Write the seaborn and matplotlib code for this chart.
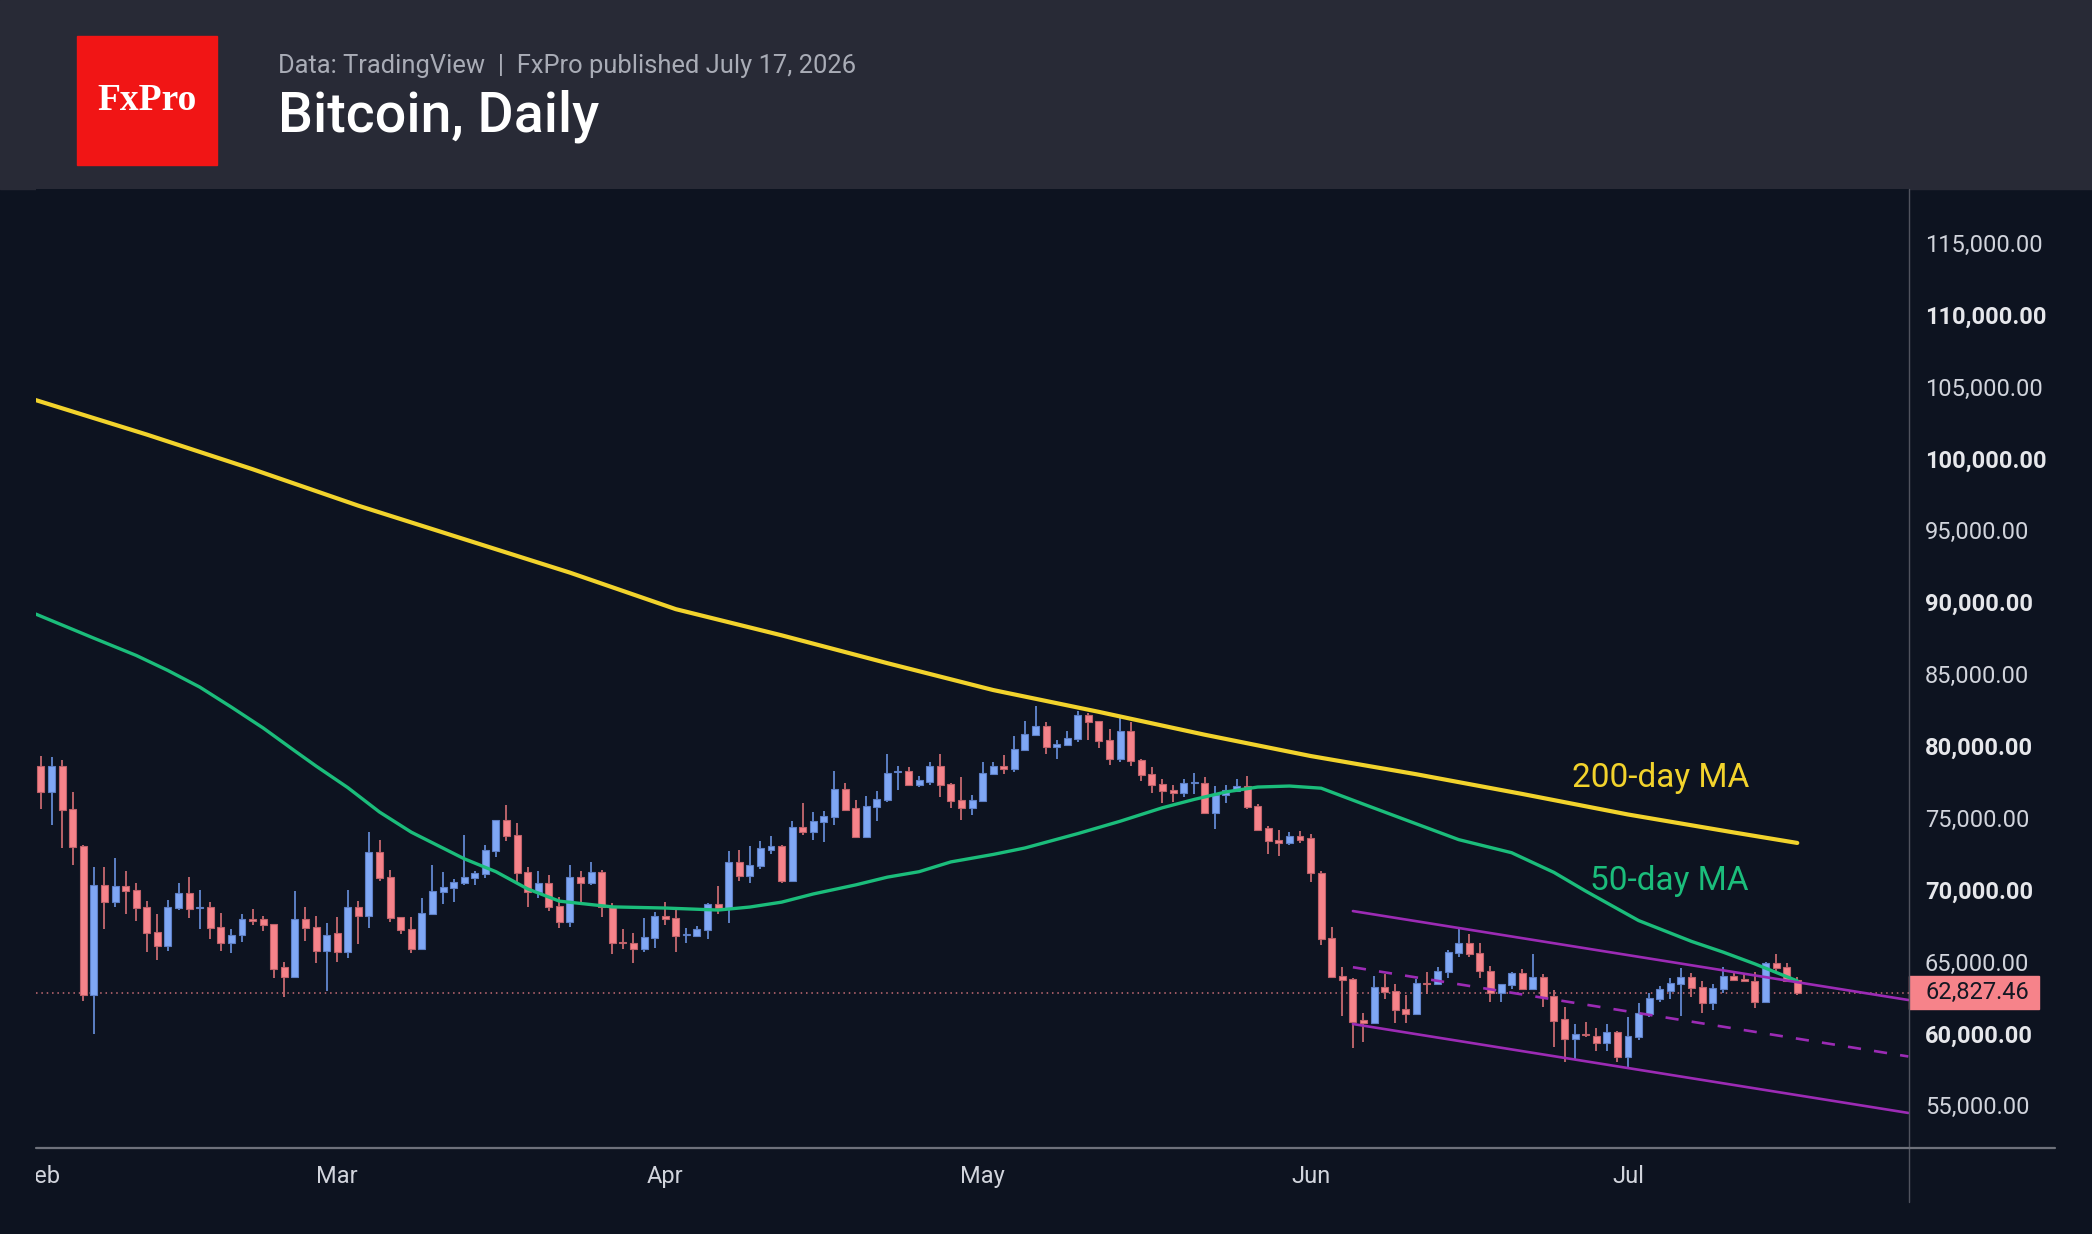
import numpy as np
import pandas as pd
import matplotlib
matplotlib.use("Agg")
import matplotlib.pyplot as plt
from matplotlib.patches import Rectangle
from matplotlib.lines import Line2D
from matplotlib.transforms import Bbox, TransformedBbox, blended_transform_factory
import seaborn as sns

# Bitcoin daily candles, Feb 1 - Jul 17 2026
start_date = "2026-02-01"
opens = [
    78600, 76790, 78600, 75630, 73040, 62640, 70350, 69140, 70250, 70000,
    68770, 67050, 66100, 68700, 69740, 68745, 68770, 67400, 66290, 66820,
    67930, 67930, 67590, 64620, 63940, 67930, 67400, 65750, 66980, 65680,
    68790, 68190, 72620, 70860, 68100, 67240, 65850, 68280, 69860, 70090,
    70440, 70790, 71090, 72710, 74850, 73830, 71230, 69860, 70440, 68860,
    67770, 70860, 70440, 71230, 68770, 66360, 66260, 65850, 66630, 68190,
    68000, 66840, 66800, 67170, 68980, 68700, 71920, 70970, 71670, 72780,
    73040, 70620, 74360, 74010, 74710, 75050, 77030, 75660, 73660, 75730,
    76260, 78190, 78260, 77300, 77470, 78580, 77370, 76240, 75660, 76190,
    78070, 78580, 78420, 79720, 80780, 81360, 79900, 80090, 80510, 82150,
    81710, 80410, 79110, 81020, 79020, 78070, 77370, 76930, 76700, 77400,
    77440, 75310, 76560, 76860, 77190, 75820, 74270, 73450, 73220, 73730,
    73570, 71180, 66610, 64010, 63760, 60900, 60690, 63220, 62970, 61670,
    61340, 63500, 63430, 64290, 65570, 66260, 65570, 64360, 62780, 63340,
    64200, 63060, 63940, 62620, 60970, 59580, 59950, 59840, 59350, 60110,
    58380, 59770, 61350, 62370, 62970, 63410, 63920, 63220, 62130, 63060,
    64010, 63780, 63660, 62200, 64890, 64620, 63710,
]
highs = [
    79300, 79210, 79020, 76790, 73100, 71570, 71570, 72180, 71300, 70440,
    69190, 68280, 69300, 70440, 70880, 70000, 69140, 68350, 67240, 68280,
    68630, 68170, 67600, 64960, 69900, 68770, 68170, 67680, 68100, 70000,
    69210, 74010, 73450, 71370, 68110, 68100, 69390, 71740, 71230, 70720,
    73830, 71300, 73130, 74850, 75890, 74610, 71550, 71300, 71040, 69460,
    71740, 71300, 71920, 71370, 69050, 67240, 66960, 68000, 68420, 69120,
    68600, 67300, 67470, 69050, 70250, 72670, 72760, 73040, 73380, 73730,
    73100, 74780, 76000, 75380, 75450, 78260, 77400, 76240, 76520, 76860,
    79460, 78600, 78510, 77910, 78880, 79460, 77420, 77820, 76590, 78880,
    78880, 79350, 80670, 81710, 82780, 81640, 80410, 81020, 82460, 82320,
    81760, 81160, 81970, 81640, 79110, 78510, 77720, 77300, 77720, 78090,
    77820, 77190, 77280, 77720, 77910, 75980, 74430, 74150, 73990, 74060,
    73890, 71300, 67380, 64640, 63870, 61410, 64010, 64100, 63410, 62690,
    63760, 64270, 64620, 65780, 67240, 66890, 66260, 64690, 63450, 64270,
    64450, 65500, 64100, 63040, 61850, 60650, 60810, 60390, 60650, 60150,
    61160, 62090, 62780, 63320, 63830, 64520, 64180, 63670, 63430, 64640,
    64340, 64180, 64250, 64960, 65520, 64890, 63940,
]
lows = [
    75630, 74520, 72870, 71740, 62270, 59950, 67240, 68810, 68280, 67840,
    65680, 65080, 65750, 68580, 68030, 67240, 66540, 65750, 65610, 66380,
    67520, 67140, 63870, 62550, 63870, 66450, 64890, 62970, 64960, 65230,
    66190, 67350, 70620, 67770, 66890, 65570, 65800, 68230, 68980, 69160,
    70350, 70350, 70790, 72290, 73410, 70490, 68810, 69390, 68540, 67350,
    67420, 68930, 70350, 68120, 65500, 65850, 64920, 65680, 65960, 67520,
    65680, 66280, 66720, 66540, 68280, 67680, 70620, 70440, 71410, 72500,
    70440, 70550, 73820, 73480, 73310, 74520, 75450, 73600, 73600, 74800,
    76080, 76930, 77240, 77120, 77300, 76420, 75660, 74850, 75190, 76150,
    78000, 78070, 78160, 79680, 80670, 79460, 79110, 80050, 80250, 80410,
    79830, 78700, 78860, 78600, 77560, 76700, 76000, 76100, 76420, 76630,
    75250, 74200, 76000, 76820, 75590, 74100, 72460, 72360, 73080, 73240,
    70550, 66120, 63900, 61230, 59000, 59420, 60650, 62410, 60740, 60740,
    61300, 62740, 63390, 63870, 65290, 65290, 63870, 62180, 62180, 63060,
    63020, 63020, 61850, 59020, 58030, 58140, 59770, 58790, 58790, 58030,
    57680, 59530, 61160, 62200, 62390, 61230, 62550, 61440, 61600, 62830,
    63660, 63550, 61790, 62130, 64340, 63640, 62640,
]
closes = [
    76790, 78600, 75560, 72970, 62640, 70350, 69140, 70250, 69930, 68700,
    66980, 66100, 68770, 69740, 68630, 68770, 67330, 66290, 66870, 67930,
    67840, 67520, 64480, 63940, 67930, 67330, 65750, 66870, 65680, 68780,
    68190, 72620, 70790, 68030, 67170, 65850, 68350, 69900, 70160, 70510,
    70860, 71130, 72760, 74850, 73760, 71160, 69860, 70440, 68810, 67770,
    70860, 70440, 71230, 68770, 66260, 66290, 65850, 66700, 68190, 67950,
    66800, 66890, 67240, 68980, 68700, 71920, 70970, 71740, 72870, 73040,
    70620, 74360, 74010, 74780, 75120, 77030, 75560, 73660, 75800, 76330,
    78140, 78260, 77300, 77630, 78580, 77300, 76190, 75660, 76240, 78140,
    78580, 78420, 79790, 80850, 81360, 79900, 80130, 80580, 82150, 81640,
    80320, 79110, 81020, 78950, 78000, 77300, 76890, 76700, 77440, 77470,
    75310, 76560, 76930, 77190, 75730, 74170, 73410, 73220, 73730, 73480,
    71180, 66560, 63940, 63690, 60810, 60740, 63220, 62900, 61600, 61370,
    63480, 63430, 64360, 65660, 66260, 65520, 64310, 62780, 63410, 64200,
    63060, 63940, 62550, 60880, 59580, 59930, 59880, 59350, 60110, 58370,
    59840, 61400, 62440, 63060, 63480, 63920, 63180, 62130, 63130, 64010,
    63690, 63660, 62200, 64890, 64570, 63670, 62827.46,
]

# moving averages, read at these day offsets from Feb 1
ma200_days = [-0.5, 10, 20, 30, 40, 50, 60, 70, 80, 90, 100, 110, 120, 130, 140, 150, 160, 166]
ma200_vals = [104070, 101670, 99260, 96720, 94390, 92060, 89520, 87700, 85760, 83890,
              82370, 80780, 79300, 78030, 76660, 75230, 73980, 73250]
ma50_days = [-0.5, 5, 9, 12, 15, 18, 21, 24, 26, 29, 32, 35, 40, 43, 46, 49, 54, 59, 64, 67,
             70, 73, 77, 80, 83, 86, 90, 93, 98, 102, 106, 109, 112, 115, 118, 121, 125, 129,
             134, 139, 143, 146, 151, 156, 159, 162, 166]
ma50_vals = [89180, 87500, 86300, 85250, 84100, 82700, 81250, 79650, 78600, 77100, 75400,
             74000, 72150, 71250, 70050, 69200, 68800, 68720, 68580, 68790, 69130, 69700,
             70330, 70870, 71250, 71930, 72450, 72900, 73900, 74760, 75700, 76280, 76800,
             77140, 77210, 77060, 75950, 74850, 73480, 72570, 71200, 69900, 67850, 66400,
             65650, 64830, 63650]

# descending channel
chan_days = [124.0, 176.5]
chan_upper = [68510, 62320]
chan_mid = [64600, 58390]
chan_lower = [60650, 54460]

price_ticks = list(range(55000, 115001, 5000))

BG = "#0d1320"
HEADER = "#282a36"
UP = "#7fa7f5"
DOWN = "#f6838a"
UP_WICK = "#5c7fc4"
DOWN_WICK = "#b9636a"
TXT = "#d1d4dc"

sns.set_theme(style="dark", rc={"axes.facecolor": BG, "figure.facecolor": BG})
plt.rcParams["font.family"] = ["Roboto", "DejaVu Sans"]

W, H = 2092, 1234
fig = plt.figure(figsize=(W / 100, H / 100), dpi=100)
ax = fig.add_axes([36 / W, 1 - 1148 / H, (1909 - 36) / W, (1148 - 189) / H])
ax.set_facecolor(BG)

t0 = pd.Timestamp(start_date)
df = pd.DataFrame({"open": opens, "high": highs, "low": lows, "close": closes})
df["date"] = pd.date_range(start_date, periods=len(df), freq="D")
up = df["close"] >= df["open"]

# candles
ax.vlines(df["date"], df["low"], df["high"],
          colors=np.where(up, UP_WICK, DOWN_WICK), linewidth=1.4, zorder=2)
body_bot = np.minimum(df["open"], df["close"])
body_h = np.maximum((df["close"] - df["open"]).abs(), 70)
ax.bar(df["date"], body_h, bottom=body_bot, width=0.66,
       color=np.where(up, UP, DOWN), edgecolor=np.where(up, "#5e80c6", "#c0626a"),
       linewidth=0.8, zorder=3)

# moving averages
to_dates = lambda d: t0 + pd.to_timedelta(d, unit="D")
sns.lineplot(x=to_dates(ma200_days), y=ma200_vals, ax=ax, color="#f2d32c",
             linewidth=3.0, estimator=None, zorder=4)
sns.lineplot(x=to_dates(ma50_days), y=ma50_vals, ax=ax, color="#1bbd7b",
             linewidth=2.4, estimator=None, zorder=4)

# channel
PURPLE = "#9c2bb5"
ax.plot(to_dates(chan_days), chan_upper, color=PURPLE, lw=1.9, zorder=5)
ax.plot(to_dates(chan_days), chan_lower, color=PURPLE, lw=1.9, zorder=5)
ax.plot(to_dates(chan_days), chan_mid, color=PURPLE, lw=1.9, ls=(0, (5, 5)), zorder=5)

# last price line
last = closes[-1]
ax.axhline(last, color=DOWN, lw=1.1, ls=(0, (1, 2.5)), alpha=0.8, zorder=1)

ax.set_xlim(to_dates(-0.47), to_dates(176.56))
ax.set_ylim(52021, 118758)
ax.set_xlabel("")
ax.set_ylabel("")
ax.grid(False)
for s in ax.spines.values():
    s.set_visible(False)

# price scale on the right
ax.yaxis.tick_right()
ax.set_yticks(price_ticks)
ax.set_yticklabels([f"{v:,.2f}" for v in price_ticks])
ax.tick_params(axis="y", length=0, pad=11.5, labelsize=17, labelcolor=TXT)
for lbl, v in zip(ax.get_yticklabels(), price_ticks):
    if v % 10000 == 0:
        lbl.set_fontweight("bold")
        lbl.set_color("#e6e7eb")

# month labels (first one cut by the left edge)
ax.set_xticks([])
ax.tick_params(axis="x", which="both", length=0)
trans_x = blended_transform_factory(ax.transData, ax.transAxes)
clip = TransformedBbox(Bbox([[0, -1], [1, 1]]), ax.transAxes)
for m in pd.date_range(start_date, "2026-07-31", freq="MS"):
    t = ax.text(m, -0.03, m.strftime("%b"), transform=trans_x, ha="center", va="center",
                fontsize=17, color=TXT)
    t.set_clip_on(True)
    t.set_clip_box(clip)

# current price tag
trans_y = blended_transform_factory(ax.transAxes, ax.transData)
ax.add_patch(Rectangle((1.0, last - 1150), 130 / 1873, 2300, transform=trans_y,
                       color=DOWN, clip_on=False, zorder=6))
ax.text(1 + 16 / 1873, last, f"{last:,.2f}", transform=trans_y, ha="left", va="center",
        fontsize=17, color="#131722", clip_on=False, zorder=7)

# MA labels
ax.text(to_dates(153.1), 77770, "200-day MA", color="#f2d32c", fontsize=24,
        ha="center", va="center")
ax.text(to_dates(153.9), 70600, "50-day MA", color="#1bbd7b", fontsize=24,
        ha="center", va="center")

# frame lines
fig.add_artist(Line2D([1909 / W, 1909 / W], [1 - 189 / H, 1 - 1202 / H], color="#50535e", lw=1))
fig.add_artist(Line2D([36 / W, 2055 / W], [1 - 1148 / H, 1 - 1148 / H], color="#6e717b", lw=1.6))

# header
fig.add_artist(Rectangle((0, 1 - 189 / H), 1, 189 / H, transform=fig.transFigure,
                         color=HEADER, zorder=0))
fig.add_artist(Rectangle((77 / W, 1 - 165 / H), 140 / W, 129 / H, transform=fig.transFigure,
                         color="#f11515", zorder=1))
fig.text(147 / W, 1 - 100 / H, "FxPro", family="Liberation Serif", fontsize=27,
         fontweight="bold", color="white", ha="center", va="center")
fig.text(278 / W, 1 - 66 / H, "Data: TradingView  |  FxPro published July 17, 2026",
         fontsize=18.4, color="#a9acb6", ha="left", va="center")
fig.text(278 / W, 1 - 116 / H, "Bitcoin, Daily", fontsize=40, color="white",
         fontweight="medium", ha="left", va="center")

fig.savefig("out.png", dpi=100, facecolor=BG)
